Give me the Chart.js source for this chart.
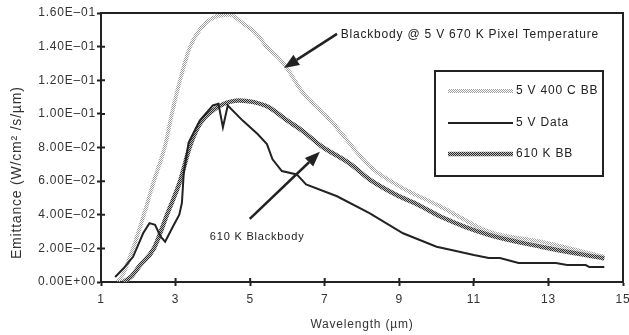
<!DOCTYPE html>
<html>
<head>
<meta charset="utf-8">
<script src="https://cdn.jsdelivr.net/npm/chart.js@4/dist/chart.umd.min.js"></script>
<style>
  html, body { margin: 0; padding: 0; background: #fff; }
</style>
</head>
<body>
<canvas id="emitChart" width="629" height="335"></canvas>
<script>
"use strict";

// wavelength (um) and emittance (W/cm2/s/um) along each curve
var bb400Wave = [1.45, 1.6, 1.86, 2.15, 2.39, 2.73, 2.9, 3.12, 3.39, 3.65, 4.0, 4.45, 4.8, 5.2, 5.4, 5.9, 6.4, 7.2, 8.2, 9.0, 10.1, 11.4, 12.8, 14.5];
var bb400Emit = [0.0, 0.005, 0.020, 0.040, 0.058, 0.082, 0.100, 0.120, 0.140, 0.150, 0.157, 0.159, 0.154, 0.147, 0.141, 0.130, 0.113, 0.095, 0.069, 0.057, 0.045, 0.030, 0.024, 0.015];

var dataWave = [1.38, 1.6, 1.86, 2.13, 2.3, 2.45, 2.6, 2.72, 2.93, 3.1, 3.17, 3.22, 3.35, 3.65, 4.0, 4.15, 4.27, 4.4, 4.8, 5.2, 5.45, 5.6, 5.85, 6.25, 6.5, 7.33, 8.2, 9.1, 10.0, 10.4, 11.0, 11.4, 11.7, 12.2, 13.2, 13.5, 14.0, 14.1, 14.5];
var dataEmit = [0.003, 0.008, 0.015, 0.029, 0.035, 0.034, 0.027, 0.024, 0.033, 0.040, 0.047, 0.065, 0.083, 0.096, 0.105, 0.106, 0.092, 0.105, 0.096, 0.088, 0.082, 0.073, 0.066, 0.064, 0.058, 0.051, 0.041, 0.029, 0.021, 0.019, 0.016, 0.0143, 0.0143, 0.0113, 0.0113, 0.0101, 0.0101, 0.0089, 0.0089];

var bb610Wave = [1.6, 1.8, 2.05, 2.42, 2.77, 3.12, 3.39, 3.65, 4.0, 4.3, 4.7, 5.1, 5.5, 6.0, 6.4, 6.9, 7.7, 8.2, 8.9, 9.5, 10.1, 11.4, 12.8, 14.5];
var bb610Emit = [0.0, 0.003, 0.010, 0.020, 0.040, 0.060, 0.081, 0.094, 0.102, 0.106, 0.108, 0.107, 0.104, 0.096, 0.090, 0.081, 0.070, 0.061, 0.052, 0.046, 0.039, 0.028, 0.021, 0.014];

var seriesNames = ["5 V 400 C BB", "5 V Data", "610 K BB"];

var xMin = 1, xMax = 15, xStep = 2;
var yMin = 0, yMax = 0.16, yStep = 0.02;

var ink = "#222";
var fontFamily = "'Liberation Sans', Arial, Helvetica, sans-serif";

function points(xs, ys) {
  return xs.map(function (x, i) {
    return { x: x, y: ys[i] };
  });
}

// 1.60E-01 style labels
function sciLabel(v) {
  if (Math.abs(v) < 1e-12) return "0.00E+00";
  var e = Math.floor(Math.log10(v) + 1e-9);
  var m = v / Math.pow(10, e);
  var ex = Math.abs(e);
  return m.toFixed(2) + "E" + (e < 0 ? "\u2013" : "+") + (ex < 10 ? "0" : "") + ex;
}

// small checker patterns for the two blackbody curves
function checker(dark, light, size) {
  var c = document.createElement("canvas");
  c.width = 2 * size;
  c.height = 2 * size;
  var g = c.getContext("2d");
  if (light) {
    g.fillStyle = light;
    g.fillRect(0, 0, c.width, c.height);
  }
  g.fillStyle = dark;
  g.fillRect(0, 0, size, size);
  g.fillRect(size, size, size, size);
  return g.createPattern(c, "repeat");
}

var dotted = checker("#a0a0a0", null, 1);
var woven = checker("#2e2e2e", "#bdbdbd", 1);

function arrow(ctx, x0, y0, x1, y1) {
  var a = Math.atan2(y1 - y0, x1 - x0);
  var len = 15, half = 6;
  var bx = x1 - len * Math.cos(a), by = y1 - len * Math.sin(a);
  ctx.beginPath();
  ctx.moveTo(x0, y0);
  ctx.lineTo(bx, by);
  ctx.stroke();
  ctx.beginPath();
  ctx.moveTo(x1, y1);
  ctx.lineTo(bx + half * Math.sin(a), by - half * Math.cos(a));
  ctx.lineTo(bx - half * Math.sin(a), by + half * Math.cos(a));
  ctx.closePath();
  ctx.fill();
}

var decorations = {
  id: "decorations",
  beforeDraw: function (chart) {
    chart.ctx.letterSpacing = "0.8px";
  },
  afterDraw: function (chart) {
    var ctx = chart.ctx;
    var ca = chart.chartArea;
    var xs = chart.scales.x, ys = chart.scales.y;
    ctx.save();
    ctx.strokeStyle = ink;
    ctx.fillStyle = ink;
    ctx.lineWidth = 2;

    // top and right sides of the frame
    ctx.beginPath();
    ctx.moveTo(ca.left - 1, ca.top);
    ctx.lineTo(ca.right, ca.top);
    ctx.lineTo(ca.right, ca.bottom + 1);
    ctx.stroke();

    // tick marks poke into the plot as well
    ctx.beginPath();
    xs.ticks.forEach(function (t) {
      var px = xs.getPixelForValue(t.value);
      ctx.moveTo(px, ca.bottom);
      ctx.lineTo(px, ca.bottom - 4);
    });
    ys.ticks.forEach(function (t) {
      var py = ys.getPixelForValue(t.value);
      ctx.moveTo(ca.left, py);
      ctx.lineTo(ca.left + 4, py);
    });
    ctx.stroke();

    // y axis title
    ctx.save();
    ctx.translate(17, ys.getPixelForValue(0.065));
    ctx.rotate(-Math.PI / 2);
    ctx.font = "14px " + fontFamily;
    ctx.fillStyle = "#333";
    ctx.textAlign = "center";
    ctx.textBaseline = "middle";
    ctx.fillText("Emittance (W/cm\u00b2 /s/\u00b5m)", 0, 0);
    ctx.restore();

    // callouts
    ctx.lineWidth = 2.5;
    arrow(ctx, xs.getPixelForValue(7.33), ys.getPixelForValue(0.1476),
               xs.getPixelForValue(5.91), ys.getPixelForValue(0.1273));
    arrow(ctx, xs.getPixelForValue(4.99), ys.getPixelForValue(0.0375),
               xs.getPixelForValue(6.87), ys.getPixelForValue(0.0774));
    ctx.fillStyle = "#222";
    ctx.textBaseline = "middle";
    ctx.textAlign = "left";
    ctx.font = "12px " + fontFamily;
    ctx.fillText("Blackbody @ 5 V 670 K Pixel Temperature",
                 xs.getPixelForValue(7.43), ys.getPixelForValue(0.147));
    ctx.font = "11px " + fontFamily;
    ctx.fillText("610 K Blackbody", xs.getPixelForValue(3.92), ys.getPixelForValue(0.0268));

    // legend box
    var bx = ca.right - 188, by = ca.top + 58, bw = 168, bh = 105;
    ctx.lineWidth = 2;
    ctx.strokeStyle = ink;
    ctx.strokeRect(bx, by, bw, bh);
    var rows = [20, 52, 83];
    ctx.font = "12px " + fontFamily;
    chart.data.datasets.forEach(function (ds, i) {
      var y = by + rows[i];
      ctx.strokeStyle = ds.borderColor;
      ctx.lineWidth = ds.borderWidth;
      ctx.beginPath();
      ctx.moveTo(bx + 13, y);
      ctx.lineTo(bx + 78, y);
      ctx.stroke();
      ctx.fillStyle = "#222";
      ctx.fillText(ds.label, bx + 81, y);
    });
    ctx.restore();
  }
};

Chart.defaults.font.family = fontFamily;
Chart.defaults.color = "#333";

var ctx = document.getElementById("emitChart").getContext("2d");
var emitChart = new Chart(ctx, {
  type: "line",
  data: {
    datasets: [
      {
        label: seriesNames[0],
        data: points(bb400Wave, bb400Emit),
        borderColor: dotted,
        borderWidth: 4,
        pointRadius: 0,
        cubicInterpolationMode: "monotone",
        order: 3
      },
      {
        label: seriesNames[1],
        data: points(dataWave, dataEmit),
        borderColor: ink,
        borderWidth: 2,
        pointRadius: 0,
        tension: 0,
        order: 1
      },
      {
        label: seriesNames[2],
        data: points(bb610Wave, bb610Emit),
        borderColor: woven,
        borderWidth: 4.5,
        pointRadius: 0,
        cubicInterpolationMode: "monotone",
        order: 2
      }
    ]
  },
  options: {
    responsive: false,
    animation: false,
    layout: { padding: { left: 0, right: 6, top: 13, bottom: 0 } },
    plugins: {
      legend: { display: false },
      tooltip: { enabled: false }
    },
    scales: {
      x: {
        type: "linear",
        min: xMin,
        max: xMax,
        ticks: {
          stepSize: xStep,
          padding: 6,
          font: { size: 12 },
          color: "#333"
        },
        grid: {
          drawOnChartArea: false,
          tickLength: 4,
          tickWidth: 2,
          tickColor: ink
        },
        border: { color: ink, width: 2 },
        title: {
          display: true,
          text: "Wavelength (\u00b5m)",
          font: { size: 12 },
          color: "#333",
          padding: { top: 0, bottom: 3 }
        },
        afterFit: function (axis) {
          axis.height = 53;
          axis.paddingLeft = 0;
          axis.paddingRight = 0;
        }
      },
      y: {
        min: yMin,
        max: yMax,
        ticks: {
          stepSize: yStep,
          padding: 1,
          font: { size: 12 },
          color: "#333",
          callback: function (v) { return sciLabel(v); }
        },
        grid: {
          drawOnChartArea: false,
          tickLength: 4,
          tickWidth: 2,
          tickColor: ink
        },
        border: { color: ink, width: 2 },
        afterFit: function (axis) {
          axis.width = 101;
          axis.paddingTop = 0;
          axis.paddingBottom = 0;
        }
      }
    }
  },
  plugins: [decorations]
});
</script>
</body>
</html>
